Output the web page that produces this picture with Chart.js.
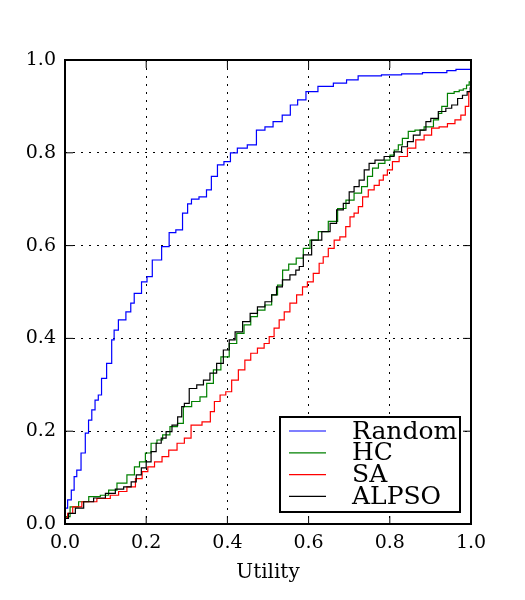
<!DOCTYPE html>
<html>
<head>
<meta charset="utf-8">
<script src="https://cdn.jsdelivr.net/npm/chart.js@4/dist/chart.umd.min.js"></script>
<style>
  body { margin: 0; background: #fff; }
  #wrap { width: 525px; height: 600px; }
</style>
</head>
<body>
<div id="wrap"><canvas id="cdfChart"></canvas></div>
<script>
const tickValues = [0.0, 0.2, 0.4, 0.6, 0.8, 1.0];
const seriesNames = ["Random", "HC", "SA", "ALPSO"];
const seriesColors = ["#0000ff", "#008000", "#ff0000", "#000000"];

const randomX = [0, 0.002, 0.011, 0.02, 0.025, 0.033, 0.046, 0.054, 0.062, 0.07, 0.078, 0.086, 0.094, 0.111, 0.119, 0.123, 0.14, 0.16, 0.164, 0.177, 0.2, 0.204, 0.226, 0.25, 0.263, 0.283, 0.296, 0.308, 0.315, 0.345, 0.352, 0.369, 0.382, 0.401, 0.414, 0.435, 0.463, 0.48, 0.505, 0.52, 0.55, 0.56, 0.586, 0.601, 0.645, 0.677, 0.71, 0.734, 0.825, 0.833, 0.928, 0.953, 0.973, 1.0];
const randomY = [0.02, 0.034, 0.052, 0.073, 0.102, 0.116, 0.153, 0.196, 0.224, 0.246, 0.267, 0.278, 0.314, 0.346, 0.397, 0.418, 0.44, 0.457, 0.476, 0.497, 0.522, 0.533, 0.569, 0.598, 0.628, 0.634, 0.67, 0.69, 0.70, 0.705, 0.72, 0.749, 0.774, 0.781, 0.80, 0.81, 0.817, 0.849, 0.856, 0.867, 0.881, 0.903, 0.914, 0.932, 0.943, 0.95, 0.957, 0.966, 0.968, 0.97, 0.973, 0.977, 0.98, 0.98];

const hcX = [0, 0.025, 0.042, 0.075, 0.099, 0.116, 0.14, 0.165, 0.177, 0.19, 0.206, 0.218, 0.235, 0.246, 0.271, 0.283, 0.3, 0.324, 0.341, 0.357, 0.374, 0.394, 0.415, 0.431, 0.451, 0.464, 0.484, 0.501, 0.517, 0.53, 0.542, 0.56, 0.579, 0.595, 0.612, 0.636, 0.661, 0.682, 0.702, 0.722, 0.739, 0.751, 0.764, 0.78, 0.796, 0.805, 0.817, 0.825, 0.837, 0.854, 0.87, 0.899, 0.916, 0.924, 0.932, 0.952, 0.965, 0.977, 0.985, 0.993, 0.998, 1.0];
const hcY = [0.016, 0.037, 0.048, 0.059, 0.062, 0.073, 0.088, 0.106, 0.123, 0.134, 0.153, 0.174, 0.181, 0.192, 0.21, 0.217, 0.253, 0.264, 0.274, 0.303, 0.332, 0.36, 0.389, 0.411, 0.429, 0.447, 0.461, 0.472, 0.494, 0.515, 0.547, 0.56, 0.573, 0.594, 0.612, 0.63, 0.652, 0.68, 0.698, 0.713, 0.727, 0.749, 0.767, 0.777, 0.784, 0.795, 0.806, 0.817, 0.831, 0.846, 0.849, 0.856, 0.871, 0.885, 0.90, 0.928, 0.932, 0.935, 0.938, 0.946, 0.953, 0.955];

const saX = [0, 0.013, 0.025, 0.058, 0.099, 0.124, 0.14, 0.165, 0.182, 0.198, 0.21, 0.231, 0.247, 0.264, 0.288, 0.3, 0.321, 0.354, 0.362, 0.374, 0.39, 0.402, 0.419, 0.435, 0.451, 0.464, 0.484, 0.497, 0.509, 0.521, 0.534, 0.546, 0.562, 0.579, 0.591, 0.603, 0.62, 0.632, 0.64, 0.657, 0.669, 0.685, 0.698, 0.706, 0.718, 0.727, 0.739, 0.755, 0.768, 0.78, 0.788, 0.8, 0.813, 0.833, 0.854, 0.874, 0.895, 0.911, 0.932, 0.952, 0.969, 0.981, 0.991, 0.998, 1.0];
const saY = [0.013, 0.023, 0.037, 0.048, 0.055, 0.062, 0.07, 0.08, 0.098, 0.113, 0.123, 0.134, 0.145, 0.159, 0.174, 0.185, 0.213, 0.22, 0.242, 0.264, 0.278, 0.285, 0.31, 0.332, 0.353, 0.368, 0.379, 0.389, 0.404, 0.422, 0.44, 0.457, 0.476, 0.494, 0.511, 0.522, 0.54, 0.562, 0.576, 0.594, 0.612, 0.619, 0.641, 0.662, 0.67, 0.684, 0.705, 0.72, 0.73, 0.741, 0.752, 0.763, 0.781, 0.792, 0.81, 0.828, 0.838, 0.853, 0.856, 0.863, 0.871, 0.881, 0.90, 0.932, 0.94];

const alpsoX = [0, 0.017, 0.034, 0.058, 0.083, 0.116, 0.132, 0.157, 0.169, 0.182, 0.194, 0.206, 0.218, 0.231, 0.243, 0.255, 0.272, 0.283, 0.292, 0.296, 0.316, 0.333, 0.349, 0.365, 0.382, 0.398, 0.411, 0.427, 0.448, 0.464, 0.484, 0.501, 0.517, 0.525, 0.546, 0.562, 0.575, 0.579, 0.595, 0.62, 0.645, 0.661, 0.677, 0.694, 0.706, 0.718, 0.731, 0.743, 0.755, 0.772, 0.8, 0.821, 0.837, 0.85, 0.866, 0.883, 0.895, 0.907, 0.932, 0.944, 0.961, 0.973, 0.985, 0.996, 1.0];
const alpsoY = [0.012, 0.023, 0.034, 0.048, 0.056, 0.066, 0.075, 0.08, 0.091, 0.106, 0.121, 0.134, 0.156, 0.174, 0.185, 0.199, 0.213, 0.231, 0.253, 0.26, 0.292, 0.30, 0.31, 0.325, 0.346, 0.375, 0.397, 0.414, 0.436, 0.454, 0.468, 0.479, 0.494, 0.511, 0.526, 0.537, 0.547, 0.555, 0.58, 0.612, 0.63, 0.648, 0.677, 0.691, 0.716, 0.727, 0.741, 0.763, 0.777, 0.784, 0.792, 0.802, 0.813, 0.824, 0.838, 0.849, 0.867, 0.874, 0.889, 0.896, 0.903, 0.917, 0.924, 0.932, 0.94];

const toPoints = (xs, ys) => xs.map((x, i) => ({ x: x, y: ys[i] }));
const seriesPoints = [
    toPoints(randomX, randomY),
    toPoints(hcX, hcY),
    toPoints(saX, saY),
    toPoints(alpsoX, alpsoY)
];

const FONT = "'DejaVu Serif', 'Liberation Serif', serif";

// frame, inward ticks on all four sides, and the boxed legend
const framePlugin = {
    id: "frame",
    afterDraw(chart) {
        const { ctx, chartArea: a, scales } = chart;
        ctx.save();
        ctx.strokeStyle = "#000";
        ctx.lineWidth = 1;
        const len = 8;
        tickValues.forEach(v => {
            const px = scales.x.getPixelForValue(v);
            const py = scales.y.getPixelForValue(v);
            ctx.beginPath();
            ctx.moveTo(px, a.bottom); ctx.lineTo(px, a.bottom - len);
            ctx.moveTo(px, a.top); ctx.lineTo(px, a.top + len);
            ctx.moveTo(a.left, py); ctx.lineTo(a.left + len, py);
            ctx.moveTo(a.right, py); ctx.lineTo(a.right - len, py);
            ctx.stroke();
        });
        ctx.lineWidth = 2;
        ctx.strokeRect(a.left, a.top, a.right - a.left, a.bottom - a.top);

        // legend
        const lx = 280, ly = 417, lw = 180, lh = 95;
        ctx.fillStyle = "#fff";
        ctx.fillRect(lx, ly, lw, lh);
        ctx.lineWidth = 2;
        ctx.strokeRect(lx, ly, lw, lh);
        ctx.font = "25px " + FONT;
        ctx.textBaseline = "middle";
        ctx.textAlign = "left";
        chart.data.datasets.forEach((ds, i) => {
            const y = 431 + i * 21.8;
            ctx.strokeStyle = ds.borderColor;
            ctx.lineWidth = 1.2;
            ctx.beginPath();
            ctx.moveTo(289, y); ctx.lineTo(326, y);
            ctx.stroke();
            ctx.fillStyle = "#000";
            ctx.fillText(ds.label, 352, y + 1);
        });
        ctx.restore();
    }
};

new Chart(document.getElementById("cdfChart").getContext("2d"), {
    type: "line",
    data: {
        datasets: seriesNames.map((name, i) => ({
            label: name,
            data: seriesPoints[i],
            borderColor: seriesColors[i],
            borderWidth: 1.2,
            pointRadius: 0,
            stepped: "middle",
            fill: false,
            order: seriesNames.length - i
        }))
    },
    options: {
        responsive: true,
        maintainAspectRatio: false,
        animation: false,
        layout: { padding: { left: 0, top: 60, right: 54, bottom: 0 } },
        plugins: { legend: { display: false }, tooltip: { enabled: false } },
        scales: {
            x: {
                type: "linear",
                min: 0,
                max: 1,
                afterFit(s) { s.height = 76; },
                afterBuildTicks(s) { s.ticks = tickValues.map(v => ({ value: v })); },
                ticks: {
                    color: "#000",
                    padding: 8,
                    maxRotation: 0,
                    font: { family: FONT, size: 19 },
                    callback: v => v.toFixed(1)
                },
                grid: { color: "#000", lineWidth: 1, drawTicks: false },
                border: { display: false, dash: [2, 6] },
                title: {
                    display: true,
                    text: "Utility",
                    color: "#000",
                    font: { family: FONT, size: 20 },
                    padding: { top: 0, bottom: 15 }
                }
            },
            y: {
                type: "linear",
                min: 0,
                max: 1,
                afterFit(s) { s.width = 65; },
                afterBuildTicks(s) { s.ticks = tickValues.map(v => ({ value: v })); },
                ticks: {
                    color: "#000",
                    padding: 9,
                    font: { family: FONT, size: 19 },
                    callback: v => v.toFixed(1)
                },
                grid: { color: "#000", lineWidth: 1, drawTicks: false },
                border: { display: false, dash: [2, 6] }
            }
        }
    },
    plugins: [framePlugin]
});
</script>
</body>
</html>
